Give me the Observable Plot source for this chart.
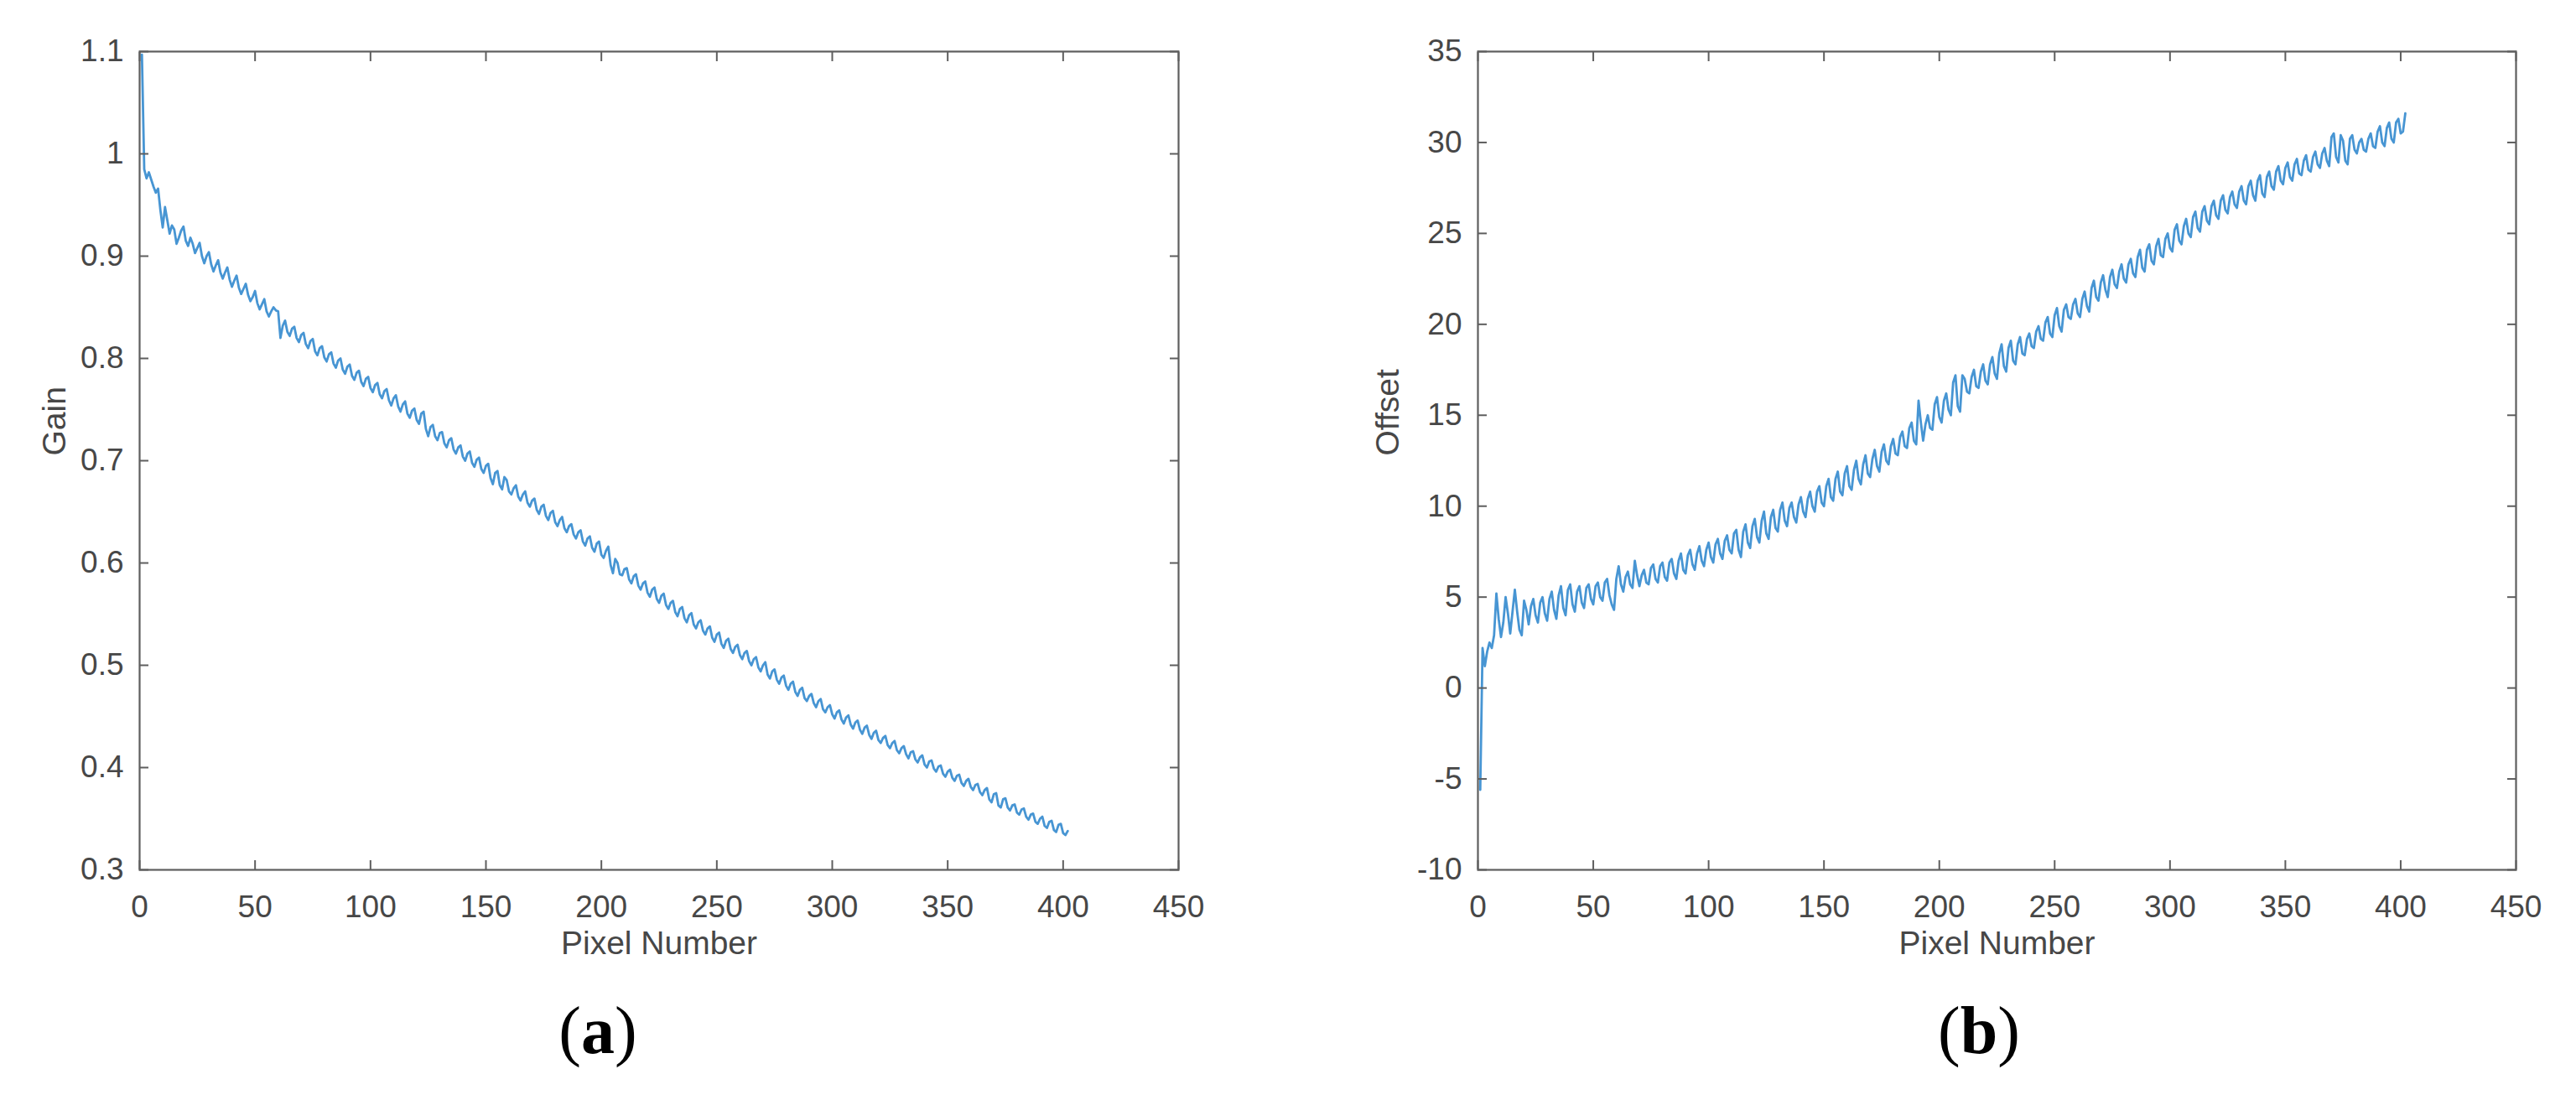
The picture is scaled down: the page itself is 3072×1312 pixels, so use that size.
<!DOCTYPE html>
<html>
<head>
<meta charset="utf-8">
<script src="https://cdn.jsdelivr.net/npm/d3@7"></script>
<script src="https://cdn.jsdelivr.net/npm/@observablehq/plot@0.6"></script>
<style>
  html, body { margin: 0; padding: 0; background: #fff; }
  #fig { position: relative; width: 3072px; height: 1312px; overflow: hidden; background: #fff; }
  #fig svg { position: absolute; top: 0; }
  .cap { position: absolute; width: 400px; text-align: center; font-family: 'Liberation Serif', 'DejaVu Serif', serif; font-size: 80px; line-height: 80px; color: #000; }
  .cap b { font-weight: bold; }
</style>
</head>
<body>
<div id="fig"></div>
<script>
// ---- data ----
const xTicks = [0, 50, 100, 150, 200, 250, 300, 350, 400, 450];
const gainTicks = [0.3, 0.4, 0.5, 0.6, 0.7, 0.8, 0.9, 1, 1.1];
const offsetTicks = [-10, -5, 0, 5, 10, 15, 20, 25, 30, 35];
const panelLabels = ["a", "b"];
const yTitles = ["Gain", "Offset"];
const xTitle = "Pixel Number";

const gain = [
1.097,0.985,0.976,0.982,0.975,0.968,0.962,0.966,0.945,0.928,
0.948,0.935,0.922,0.930,0.926,0.912,0.918,0.925,0.929,0.915,
0.910,0.918,0.912,0.903,0.908,0.913,0.900,0.893,0.900,0.904,
0.892,0.885,0.891,0.896,0.884,0.878,0.884,0.889,0.877,0.870,
0.876,0.881,0.869,0.863,0.868,0.873,0.862,0.856,0.860,0.866,
0.854,0.848,0.853,0.858,0.846,0.841,0.846,0.850,0.847,0.846,
0.820,0.832,0.837,0.826,0.822,0.829,0.831,0.820,0.816,0.823,
0.825,0.814,0.810,0.817,0.819,0.807,0.803,0.810,0.812,0.801,
0.797,0.804,0.806,0.795,0.791,0.798,0.800,0.789,0.785,0.792,
0.794,0.783,0.779,0.786,0.788,0.777,0.773,0.780,0.782,0.771,
0.767,0.774,0.776,0.765,0.761,0.768,0.770,0.759,0.754,0.761,
0.764,0.753,0.748,0.755,0.758,0.746,0.742,0.749,0.751,0.740,
0.736,0.746,0.748,0.731,0.724,0.733,0.735,0.724,0.720,0.727,
0.728,0.717,0.713,0.720,0.722,0.711,0.707,0.713,0.715,0.704,
0.700,0.707,0.709,0.698,0.694,0.701,0.703,0.692,0.688,0.695,
0.697,0.683,0.677,0.688,0.690,0.676,0.672,0.684,0.681,0.670,
0.667,0.673,0.676,0.665,0.661,0.667,0.670,0.659,0.655,0.661,
0.663,0.652,0.648,0.655,0.657,0.646,0.642,0.649,0.651,0.640,
0.636,0.642,0.645,0.634,0.630,0.636,0.638,0.628,0.624,0.630,
0.632,0.621,0.617,0.624,0.626,0.615,0.611,0.619,0.621,0.608,
0.605,0.612,0.616,0.598,0.590,0.604,0.600,0.589,0.588,0.594,
0.595,0.584,0.580,0.587,0.589,0.578,0.574,0.580,0.582,0.571,
0.567,0.574,0.576,0.565,0.561,0.568,0.570,0.559,0.555,0.561,
0.563,0.552,0.548,0.555,0.557,0.546,0.542,0.549,0.551,0.540,
0.536,0.542,0.544,0.534,0.530,0.536,0.538,0.527,0.523,0.530,
0.532,0.521,0.517,0.524,0.526,0.516,0.512,0.518,0.520,0.510,
0.506,0.512,0.514,0.504,0.500,0.506,0.508,0.498,0.494,0.500,
0.503,0.491,0.487,0.494,0.496,0.486,0.482,0.488,0.490,0.480,
0.476,0.482,0.484,0.474,0.470,0.476,0.478,0.468,0.465,0.470,
0.472,0.463,0.459,0.465,0.467,0.457,0.454,0.459,0.461,0.452,
0.448,0.454,0.456,0.447,0.443,0.449,0.451,0.442,0.438,0.444,
0.446,0.437,0.433,0.439,0.441,0.432,0.428,0.434,0.436,0.427,
0.424,0.429,0.431,0.422,0.419,0.424,0.426,0.417,0.414,0.419,
0.421,0.413,0.409,0.415,0.416,0.408,0.405,0.410,0.412,0.403,
0.400,0.406,0.407,0.399,0.396,0.401,0.402,0.394,0.391,0.396,
0.398,0.390,0.387,0.392,0.393,0.385,0.382,0.387,0.389,0.381,
0.378,0.383,0.384,0.376,0.373,0.378,0.380,0.369,0.366,0.374,
0.375,0.363,0.361,0.369,0.370,0.361,0.358,0.363,0.364,0.356,
0.354,0.359,0.360,0.352,0.349,0.354,0.355,0.347,0.345,0.350,
0.352,0.343,0.341,0.347,0.348,0.339,0.337,0.344,0.345,0.336,
0.334,0.338
];

const offset = [
-5.6,2.2,1.2,2.0,2.5,2.2,2.9,5.2,3.8,2.8,
3.6,5.0,4.1,3.0,4.2,5.4,4.2,3.2,2.9,4.8,
4.3,3.5,4.5,4.9,4.0,3.6,4.7,5.0,4.1,3.7,
4.9,5.3,4.3,3.8,5.1,5.6,4.4,4.0,5.4,5.7,
4.6,4.2,5.3,5.6,4.7,4.4,5.5,5.7,4.9,4.6,
5.6,5.8,5.0,4.8,5.8,6.0,5.1,4.6,4.3,6.0,
6.7,5.7,5.3,6.1,6.4,5.7,5.5,7.0,6.2,5.6,
6.2,6.5,5.8,5.7,6.6,6.8,6.0,5.8,6.7,6.9,
6.1,5.9,6.9,7.1,6.3,6.0,7.0,7.4,6.5,6.3,
7.3,7.6,6.8,6.5,7.4,7.8,7.0,6.7,7.6,8.0,
7.2,6.9,7.9,8.2,7.4,7.1,8.1,8.4,7.6,7.4,
8.5,8.7,7.6,7.2,8.6,9.0,8.0,7.7,8.9,9.3,
8.3,8.0,9.2,9.7,8.5,8.2,9.4,9.8,8.8,8.6,
9.8,10.2,9.2,8.9,9.9,10.2,9.4,9.1,10.1,10.5,
9.7,9.4,10.4,10.8,10.0,9.7,10.8,11.1,10.2,10.0,
11.1,11.5,10.5,10.3,11.5,11.9,10.8,10.6,11.8,12.2,
11.1,10.9,12.0,12.5,11.5,11.2,12.3,12.8,11.8,11.6,
12.6,13.1,12.2,11.9,13.0,13.4,12.5,12.3,13.3,13.7,
12.9,12.8,13.8,14.1,13.3,13.2,14.3,14.6,13.6,13.4,
15.8,14.6,13.6,14.5,15.0,14.3,14.2,15.6,16.0,14.9,
14.6,15.8,16.2,15.3,15.0,16.8,17.2,15.5,15.2,17.2,
17.0,16.3,16.2,17.1,17.5,16.6,16.5,17.4,17.8,16.9,
16.7,17.8,18.2,17.3,17.0,18.4,18.9,17.7,17.4,18.7,
19.1,18.0,17.8,18.9,19.3,18.4,18.3,19.2,19.5,18.8,
18.7,19.6,19.9,19.2,19.1,20.1,20.4,19.5,19.3,20.5,
20.9,19.9,19.6,20.8,21.1,20.4,20.3,21.1,21.4,20.6,
20.4,21.4,21.8,21.0,20.7,22.0,22.4,21.5,21.3,22.3,
22.7,21.9,21.5,22.6,23.0,22.2,22.0,22.9,23.3,22.5,
22.3,23.3,23.6,22.8,22.6,23.7,24.1,23.1,22.9,24.1,
24.4,23.5,23.3,24.3,24.7,23.8,23.7,24.7,25.0,24.2,
24.0,25.2,25.5,24.6,24.4,25.4,25.8,25.0,24.8,25.9,
26.2,25.3,25.1,26.2,26.5,25.7,25.5,26.5,26.8,26.0,
25.8,26.8,27.1,26.3,26.1,27.0,27.3,26.6,26.4,27.3,
27.6,26.8,26.6,27.6,27.9,27.1,26.8,27.9,28.2,27.2,
27.0,28.1,28.4,27.6,27.4,28.4,28.7,27.9,27.7,28.6,
28.9,28.1,27.9,28.8,29.1,28.3,28.2,29.0,29.3,28.5,
28.4,29.2,29.5,28.8,28.6,29.4,29.7,29.0,28.7,30.3,
30.5,29.2,28.9,30.4,30.1,29.0,28.8,30.2,30.4,29.6,
29.4,30.0,30.2,29.6,29.5,30.2,30.5,29.8,29.7,30.6,
30.9,30.0,29.8,30.8,31.1,30.2,30.0,31.1,31.3,30.5,
30.6,31.6
];

// ---- drawing ----
const AX = "#5e5e5e";
const TXT = "#474747";
const LINE = "#4795d3";
const FONT = "'Liberation Sans', Arial, Helvetica, sans-serif";
const TICK = 11;

function panel({values, yDomain, yTicks, yTitle, marginLeft, marginRight, yTitleDx}) {
  const pixelNumber = d3.range(1, values.length + 1);
  const data = pixelNumber.map((p, i) => ({p, v: values[i]}));
  const blank = () => "";
  return Plot.plot({
    width: 1536,
    height: 1312,
    marginLeft,
    marginRight,
    marginTop: 61,
    marginBottom: 275,
    style: {fontFamily: FONT, background: "transparent", overflow: "visible"},
    x: {domain: [0, 450]},
    y: {domain: yDomain},
    marks: [
      Plot.line(data, {x: "p", y: "v", stroke: LINE, strokeWidth: 2.8, strokeLinejoin: "round"}),
      Plot.frame({stroke: AX, strokeWidth: 2.2}),
      // inward ticks on all four sides
      Plot.axisX(xTicks, {anchor: "bottom", tickSize: TICK, dy: -TICK, tickFormat: blank, stroke: AX, strokeWidth: 2, label: null}),
      Plot.axisX(xTicks, {anchor: "top", tickSize: TICK, dy: TICK, tickFormat: blank, stroke: AX, strokeWidth: 2, label: null}),
      Plot.axisY(yTicks, {anchor: "left", tickSize: TICK, dx: TICK, tickFormat: blank, stroke: AX, strokeWidth: 2, label: null}),
      Plot.axisY(yTicks, {anchor: "right", tickSize: TICK, dx: -TICK, tickFormat: blank, stroke: AX, strokeWidth: 2, label: null}),
      // tick labels
      Plot.axisX(xTicks, {anchor: "bottom", tickSize: 0, tickPadding: 30, fontSize: 37, fill: TXT, tickFormat: d => String(d), label: null}),
      Plot.axisY(yTicks, {anchor: "left", tickSize: 0, tickPadding: 19, fontSize: 37, fill: TXT, tickFormat: d => String(d), label: null}),
      // axis titles
      Plot.text([xTitle], {text: d => d, frameAnchor: "bottom", dy: 100, fontSize: 39, fill: TXT}),
      Plot.text([yTitle], {text: d => d, frameAnchor: "left", dx: yTitleDx, dy: -6, rotate: -90, fontSize: 39, fill: TXT})
    ]
  });
}

const fig = document.getElementById("fig");

const left = panel({values: gain, yDomain: [0.3, 1.1], yTicks: gainTicks, yTitle: yTitles[0], marginLeft: 166, marginRight: 131, yTitleDx: -101});
left.style.left = "0px";
fig.appendChild(left);

const right = panel({values: offset, yDomain: [-10, 35], yTicks: offsetTicks, yTitle: yTitles[1], marginLeft: 226, marginRight: 72, yTitleDx: -107});
right.style.left = "1536px";
fig.appendChild(right);

// sub-figure captions
const capCenters = [713, 2360];
panelLabels.forEach((lab, i) => {
  const d = document.createElement("div");
  d.className = "cap";
  d.style.left = (capCenters[i] - 200) + "px";
  d.style.top = "1189px";
  d.innerHTML = "(<b>" + lab + "</b>)";
  fig.appendChild(d);
});
</script>
</body>
</html>
